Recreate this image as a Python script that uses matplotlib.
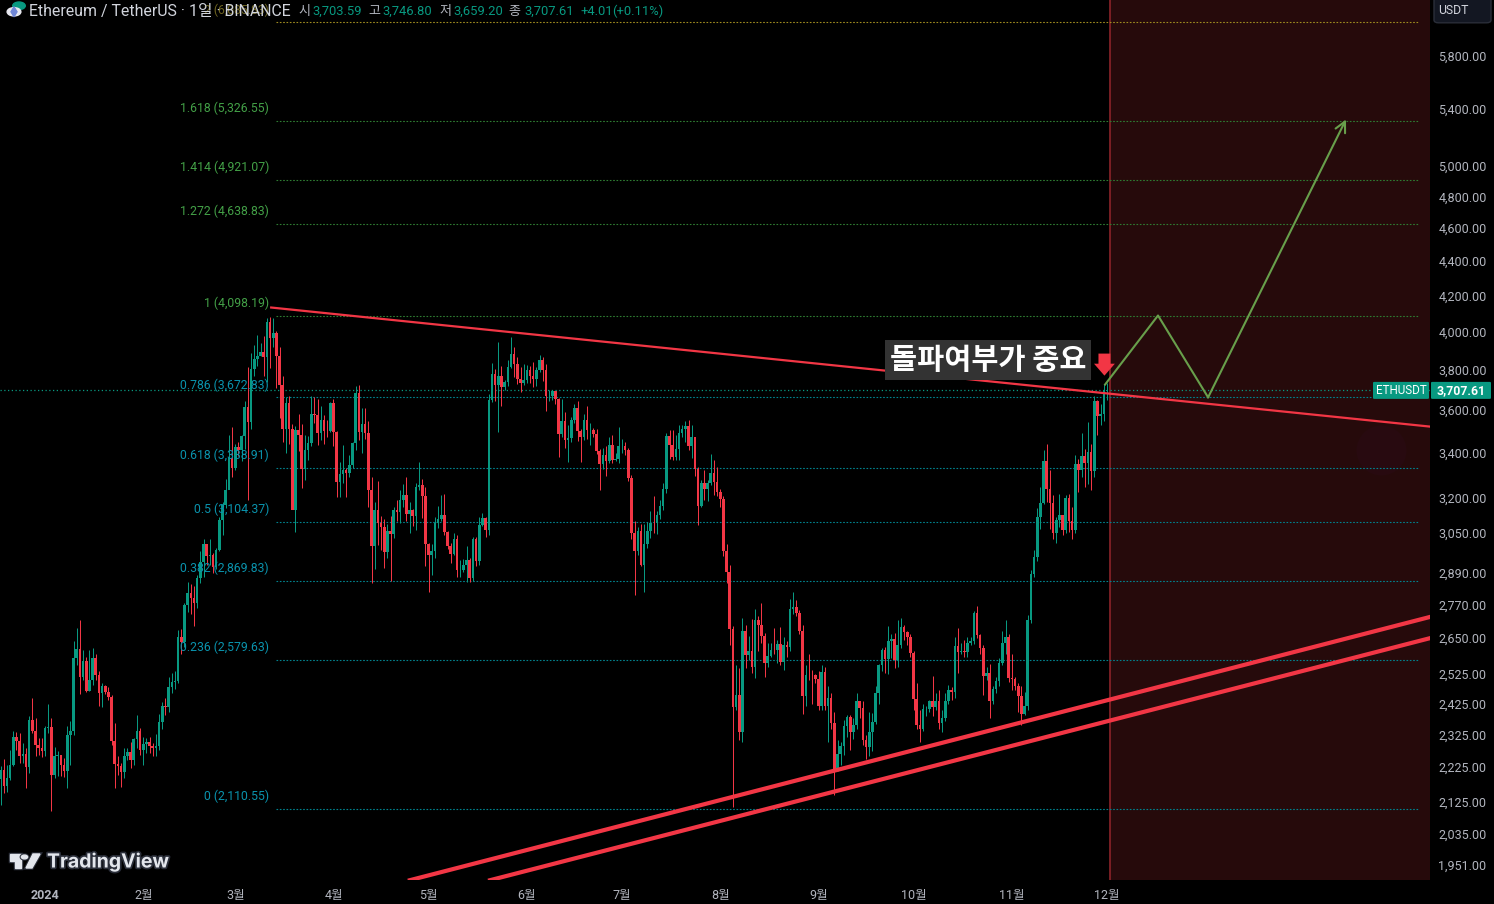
import matplotlib
matplotlib.use('Agg')
import matplotlib.pyplot as plt
import matplotlib.patheffects as pe
from matplotlib.patches import Circle, Polygon, FancyBboxPatch
from matplotlib.ticker import NullLocator, NullFormatter
from matplotlib.transforms import ScaledTranslation

plt.rcParams['font.family'] = ['Roboto', 'Noto Sans CJK KR', 'DejaVu Sans']

# daily candles, first one 14 days before 2024-01-01; one row per month
opens = [
    2197, 2224, 2176, 2200, 2240, 2326, 2312, 2265, 2272, 2232, 2378, 2344, 2299, 2292,
    2281, 2352, 2355, 2209, 2267, 2268, 2240, 2221, 2330, 2344, 2584, 2617, 2522, 2576, 2472, 2511, 2587, 2528, 2467, 2489, 2470, 2453, 2311, 2242, 2236, 2218, 2267, 2277, 2255, 2318, 2344,
    2283, 2304, 2309, 2297, 2289, 2296, 2372, 2423, 2419, 2486, 2502, 2507, 2660, 2641, 2777, 2823, 2803, 2786, 2881, 2944, 3013, 2968, 2971, 2923, 2992, 3112, 3178, 3243, 3385,
    3340, 3434, 3421, 3487, 3627, 3553, 3818, 3868, 3883, 3905, 3878, 4067, 3980, 4005, 3881, 3735, 3522, 3643, 3520, 3158, 3516, 3492, 3336, 3421, 3454, 3590, 3587, 3500, 3561, 3510, 3508,
    3647, 3504, 3278, 3311, 3331, 3318, 3353, 3454, 3694, 3505, 3545, 3500, 3240, 3006, 3156, 3100, 3084, 2984, 3066, 3054, 3157, 3147, 3200, 3219, 3140, 3156, 3131, 3254, 3263, 3216,
    3014, 2972, 2988, 3103, 3117, 3136, 3062, 3006, 2974, 3036, 2910, 2912, 2929, 2949, 2881, 3037, 2945, 3094, 3122, 3071, 3661, 3790, 3736, 3780, 3727, 3748, 3826, 3893, 3840, 3767, 3747,
    3760, 3813, 3780, 3767, 3810, 3864, 3809, 3678, 3680, 3705, 3664, 3497, 3559, 3468, 3479, 3564, 3622, 3508, 3483, 3563, 3516, 3517, 3494, 3417, 3356, 3399, 3372, 3447, 3376, 3381,
    3438, 3441, 3421, 3295, 3058, 2985, 3069, 2931, 3016, 3066, 3101, 3100, 3133, 3175, 3245, 3485, 3444, 3388, 3426, 3503, 3518, 3536, 3439, 3481, 3336, 3175, 3275, 3247, 3271, 3318, 3279,
    3232, 3203, 2987, 2903, 2689, 2419, 2461, 2339, 2682, 2597, 2610, 2555, 2721, 2703, 2662, 2569, 2593, 2614, 2612, 2636, 2571, 2631, 2623, 2763, 2768, 2746, 2680, 2458, 2528, 2527, 2526,
    2513, 2425, 2538, 2425, 2451, 2369, 2225, 2272, 2297, 2359, 2388, 2341, 2362, 2440, 2417, 2315, 2295, 2340, 2372, 2465, 2560, 2613, 2582, 2645, 2653, 2578, 2632, 2695, 2677, 2659,
    2603, 2447, 2364, 2349, 2414, 2414, 2440, 2422, 2440, 2370, 2385, 2439, 2476, 2470, 2628, 2607, 2611, 2605, 2640, 2646, 2748, 2666, 2620, 2525, 2535, 2440, 2480, 2507, 2569, 2638, 2659,
    2517, 2514, 2490, 2457, 2399, 2423, 2720, 2895, 2962, 3126, 3185, 3372, 3245, 3187, 3059, 3113, 3134, 3072, 3206, 3108, 3072, 3356, 3329, 3394, 3360, 3414, 3326, 3656, 3580, 3593,
    3703.59,
]
highs = [
    2235, 2258, 2240, 2285, 2343, 2340, 2337, 2305, 2290, 2393, 2450, 2386, 2322, 2322,
    2361, 2432, 2385, 2295, 2280, 2268, 2260, 2358, 2375, 2646, 2692, 2722, 2612, 2590, 2614, 2620, 2600, 2540, 2500, 2492, 2485, 2460, 2370, 2265, 2245, 2290, 2290, 2310, 2322, 2395, 2352,
    2325, 2323, 2325, 2305, 2335, 2398, 2436, 2450, 2520, 2535, 2540, 2685, 2690, 2785, 2866, 2858, 2848, 2890, 2985, 3035, 3015, 3034, 2980, 3000, 3125, 3190, 3290, 3490, 3530,
    3450, 3460, 3490, 3655, 3825, 3900, 3940, 3995, 3950, 3990, 4085, 4095, 4085, 4015, 3930, 3780, 3675, 3680, 3545, 3535, 3590, 3545, 3490, 3485, 3680, 3675, 3665, 3630, 3585, 3565, 3650,
    3665, 3510, 3365, 3445, 3340, 3400, 3460, 3730, 3735, 3620, 3620, 3560, 3300, 3190, 3283, 3130, 3120, 3095, 3130, 3170, 3200, 3240, 3270, 3300, 3190, 3160, 3275, 3365, 3290, 3255,
    3020, 3015, 3125, 3174, 3220, 3225, 3070, 3020, 3060, 3050, 2950, 2955, 3005, 2960, 3045, 3045, 3125, 3145, 3125, 3690, 3845, 3815, 3958, 3830, 3760, 3860, 3985, 3930, 3880, 3825, 3840,
    3835, 3830, 3850, 3825, 3888, 3880, 3840, 3710, 3710, 3700, 3670, 3665, 3600, 3540, 3575, 3640, 3655, 3520, 3590, 3630, 3550, 3525, 3520, 3425, 3430, 3440, 3480, 3490, 3410, 3530,
    3475, 3460, 3430, 3310, 3110, 3085, 3095, 3095, 3105, 3150, 3218, 3150, 3200, 3275, 3500, 3515, 3515, 3490, 3540, 3540, 3560, 3565, 3540, 3480, 3345, 3285, 3330, 3285, 3404, 3375, 3345,
    3245, 3215, 3015, 2930, 2700, 2562, 2550, 2730, 2705, 2665, 2726, 2762, 2735, 2785, 2675, 2640, 2640, 2693, 2650, 2697, 2660, 2645, 2800, 2827, 2795, 2760, 2705, 2560, 2600, 2545, 2530,
    2540, 2560, 2555, 2490, 2465, 2405, 2315, 2310, 2380, 2395, 2395, 2385, 2465, 2425, 2440, 2330, 2405, 2400, 2490, 2565, 2620, 2625, 2700, 2670, 2675, 2720, 2730, 2705, 2680, 2670,
    2610, 2500, 2410, 2430, 2425, 2445, 2525, 2465, 2475, 2410, 2465, 2495, 2485, 2660, 2693, 2640, 2650, 2660, 2660, 2755, 2773, 2670, 2630, 2555, 2565, 2490, 2520, 2585, 2680, 2723, 2670,
    2600, 2520, 2500, 2490, 2470, 2740, 2910, 2990, 3165, 3255, 3420, 3450, 3330, 3220, 3125, 3225, 3130, 3220, 3225, 3170, 3398, 3380, 3500, 3425, 3553, 3450, 3680, 3660, 3640, 3740,
    3746.80,
]
lows = [
    2120, 2157, 2160, 2195, 2235, 2285, 2245, 2245, 2170, 2215, 2336, 2266, 2270, 2263,
    2265, 2336, 2105, 2200, 2205, 2205, 2202, 2170, 2238, 2332, 2560, 2463, 2510, 2470, 2472, 2495, 2510, 2425, 2420, 2462, 2445, 2300, 2170, 2210, 2172, 2200, 2255, 2230, 2240, 2290, 2270,
    2240, 2275, 2275, 2265, 2265, 2285, 2350, 2395, 2405, 2465, 2480, 2500, 2600, 2625, 2750, 2745, 2700, 2765, 2860, 2885, 2930, 2930, 2900, 2915, 2985, 3050, 3165, 3250, 3300,
    3330, 3395, 3370, 3425, 3200, 3520, 3780, 3830, 3885, 3780, 3750, 3820, 3930, 3720, 3570, 3460, 3410, 3450, 3160, 3065, 3415, 3250, 3285, 3375, 3440, 3550, 3445, 3470, 3450, 3480, 3505,
    3440, 3210, 3213, 3275, 3210, 3300, 3340, 3420, 3470, 3410, 3475, 3170, 2860, 2916, 3010, 2990, 2920, 2960, 2868, 3040, 3110, 3100, 3170, 3110, 3060, 3090, 3074, 3240, 3122, 2928,
    2825, 2890, 2960, 3080, 3110, 3050, 2995, 2940, 2970, 2885, 2885, 2905, 2864, 2864, 2870, 2925, 2930, 3090, 3045, 3050, 3650, 3655, 3505, 3630, 3710, 3730, 3820, 3775, 3740, 3700, 3735,
    3745, 3745, 3725, 3730, 3800, 3755, 3606, 3655, 3660, 3640, 3390, 3480, 3430, 3365, 3460, 3550, 3465, 3366, 3470, 3475, 3445, 3480, 3405, 3240, 3335, 3305, 3360, 3360, 3370, 3360,
    3410, 3400, 3280, 3035, 2815, 2970, 2925, 2825, 3000, 3040, 3060, 3055, 3120, 3155, 3230, 3380, 3375, 3375, 3375, 3480, 3460, 3420, 3385, 3305, 3094, 3170, 3200, 3195, 3265, 3220, 3215,
    3170, 2965, 2860, 2630, 2117, 2410, 2314, 2310, 2550, 2580, 2535, 2518, 2610, 2640, 2522, 2555, 2590, 2600, 2570, 2560, 2545, 2590, 2610, 2745, 2735, 2670, 2398, 2425, 2510, 2430, 2500,
    2410, 2410, 2410, 2310, 2350, 2150, 2220, 2240, 2270, 2325, 2283, 2320, 2350, 2385, 2300, 2257, 2265, 2280, 2365, 2430, 2540, 2535, 2530, 2585, 2550, 2555, 2620, 2650, 2630, 2590,
    2410, 2350, 2310, 2345, 2390, 2405, 2390, 2410, 2350, 2340, 2375, 2430, 2445, 2450, 2535, 2600, 2590, 2590, 2630, 2635, 2655, 2600, 2460, 2510, 2385, 2430, 2465, 2490, 2560, 2600, 2505,
    2475, 2475, 2405, 2364, 2395, 2410, 2710, 2885, 2945, 3077, 3180, 3190, 3077, 3036, 3020, 3085, 3050, 3060, 3065, 3035, 3060, 3235, 3300, 3255, 3270, 3240, 3300, 3490, 3540, 3560,
    3659.20,
]
closes = [
    2224, 2176, 2200, 2240, 2326, 2312, 2265, 2272, 2232, 2378, 2344, 2299, 2292, 2281,
    2352, 2355, 2209, 2267, 2268, 2240, 2221, 2330, 2344, 2584, 2617, 2522, 2576, 2472, 2511, 2587, 2528, 2467, 2489, 2470, 2453, 2311, 2242, 2236, 2218, 2267, 2277, 2255, 2318, 2344, 2283,
    2304, 2309, 2297, 2289, 2296, 2372, 2423, 2419, 2486, 2502, 2507, 2660, 2641, 2777, 2823, 2803, 2786, 2881, 2944, 3013, 2968, 2971, 2923, 2992, 3112, 3178, 3243, 3385, 3340,
    3434, 3421, 3487, 3627, 3553, 3818, 3868, 3883, 3905, 3878, 4067, 3980, 4005, 3881, 3735, 3522, 3643, 3520, 3158, 3516, 3492, 3336, 3421, 3454, 3590, 3587, 3500, 3561, 3510, 3508, 3647,
    3504, 3278, 3311, 3331, 3318, 3353, 3454, 3694, 3505, 3545, 3500, 3240, 3006, 3156, 3100, 3084, 2984, 3066, 3054, 3157, 3147, 3200, 3219, 3140, 3156, 3131, 3254, 3263, 3216, 3014,
    2972, 2988, 3103, 3117, 3136, 3062, 3006, 2974, 3036, 2910, 2912, 2929, 2949, 2881, 3037, 2945, 3094, 3122, 3071, 3661, 3790, 3736, 3780, 3727, 3748, 3826, 3893, 3840, 3767, 3747, 3760,
    3813, 3780, 3767, 3810, 3864, 3809, 3678, 3680, 3705, 3664, 3497, 3559, 3468, 3479, 3564, 3622, 3508, 3483, 3563, 3516, 3517, 3494, 3417, 3356, 3399, 3372, 3447, 3376, 3381, 3438,
    3441, 3421, 3295, 3058, 2985, 3069, 2931, 3016, 3066, 3101, 3100, 3133, 3175, 3245, 3485, 3444, 3388, 3426, 3503, 3518, 3536, 3439, 3481, 3336, 3175, 3275, 3247, 3271, 3318, 3279, 3232,
    3203, 2987, 2903, 2689, 2419, 2461, 2339, 2682, 2597, 2610, 2555, 2721, 2703, 2662, 2569, 2593, 2614, 2612, 2636, 2571, 2631, 2623, 2763, 2768, 2746, 2680, 2458, 2528, 2527, 2526, 2513,
    2425, 2538, 2425, 2451, 2369, 2225, 2272, 2297, 2359, 2388, 2341, 2362, 2440, 2417, 2315, 2295, 2340, 2372, 2465, 2560, 2613, 2582, 2645, 2653, 2578, 2632, 2695, 2677, 2659, 2603,
    2447, 2364, 2349, 2414, 2414, 2440, 2422, 2440, 2370, 2385, 2439, 2476, 2470, 2628, 2607, 2611, 2605, 2640, 2646, 2748, 2666, 2620, 2525, 2535, 2440, 2480, 2507, 2569, 2638, 2659, 2517,
    2514, 2490, 2457, 2399, 2423, 2720, 2895, 2962, 3126, 3185, 3372, 3245, 3187, 3059, 3113, 3134, 3072, 3206, 3108, 3072, 3356, 3329, 3394, 3360, 3414, 3326, 3656, 3580, 3593, 3703,
    3707.61,
]

fib_prices = [2110.55, 2579.63, 2869.83, 3104.37, 3338.91, 3672.83, 4098.19, 4638.83, 4921.07, 5326.55, 6085.83]
fib_names = ['0', '0.236', '0.382', '0.5', '0.618', '0.786', '1', '1.272', '1.414', '1.618', '2']

y_ticks = [5800, 5400, 5000, 4800, 4600, 4400, 4200, 4000, 3800, 3600, 3400, 3200, 3050,
           2890, 2770, 2650, 2525, 2425, 2325, 2225, 2125, 2035, 1951]
month_days = [0, 31, 60, 91, 121, 152, 182, 213, 244, 274, 305, 335]
month_labels = ['2024', '2월', '3월', '4월', '5월', '6월', '7월', '8월', '9월', '10월', '11월', '12월']

# drawings on the chart: day number, price
top_line_days = [71, 437]
top_line_prices = [4146, 3531]
upper_support_days = [115.1, 437]
upper_support_prices = [1917, 2733]
lower_support_days = [140.4, 437]
lower_support_prices = [1917, 2656]
path_days = [334.4, 351.1, 366.9, 410.4]
path_prices = [3737, 4101, 3673, 5340]

BG = '#000000'
GREEN = '#089981'
RED = '#f23645'
GREY = '#b2b5be'
FIB_TEAL = '#00838f'
FIB_GREEN = '#2e7d32'
LABEL_TEAL = '#0a93ad'
LABEL_GREEN = '#43a047'
PATH_GREEN = '#689f4b'
W, H = 1494, 904


def fx(px):
    return px / W


def fy(py):
    return 1 - py / H


fig = plt.figure(figsize=(W / 100, (H + 0.2) / 100), dpi=100, facecolor=BG)
ax = fig.add_axes([0, fy(880), fx(1430), 880 / H], facecolor=BG)
ax.set_yscale('log')
ax.set_xlim(-14.2, 436.9)
ax.set_ylim(1917.5, 6274)

days = list(range(-14, -14 + len(closes)))
colors = [GREEN if c >= o else RED for o, c in zip(opens, closes)]

# shaded zone after the last candle
ax.axvspan(335.95, 436.9, color='#260a0b', lw=0, zorder=0)
ax.axvline(335.95, color='#8c2329', lw=1.2, zorder=1)
ax.scatter([421.5], [3420], s=1300, color='#280a10', lw=0, zorder=0.5)

# fib levels
for name, price in zip(fib_names, fib_prices):
    if name == '2':
        line_c, text_c = '#a08c20', '#6e6420'
    elif price > 4000:
        line_c, text_c = FIB_GREEN, LABEL_GREEN
    else:
        line_c, text_c = FIB_TEAL, LABEL_TEAL
    ax.plot([72.87, 433.1], [price, price], color=line_c, lw=0.8, ls=(0, (1.5, 1.5)), zorder=2)
    ax.annotate(f'{name} ({price:,.2f})', (70.66, price), xytext=(0, 9.2), textcoords='offset points',
                ha='right', va='center', color=text_c, fontsize=8.8, zorder=6)

ax.plot([-14.2, 436.9], [closes[-1], closes[-1]], color=GREEN, lw=0.9, ls=(0, (1, 2)), zorder=2)

# candles
ax.vlines(days, lows, highs, colors=colors, lw=0.72, snap=True, zorder=3)
ax.bar(days, [abs(c - o) for o, c in zip(opens, closes)], bottom=[min(o, c) for o, c in zip(opens, closes)],
       width=0.82, color=colors, linewidth=0, antialiased=False, zorder=4)

# trend lines
ax.plot(top_line_days, top_line_prices, color=RED, lw=1.6, zorder=5, solid_capstyle='butt')
ax.plot(upper_support_days, upper_support_prices, color=RED, lw=3, zorder=5)
ax.plot(lower_support_days, lower_support_prices, color=RED, lw=3, zorder=5)

# projected path
ax.plot(path_days[:3], path_prices[:3], color=PATH_GREEN, lw=1.5, zorder=5)
ax.annotate('', xy=(path_days[3], path_prices[3]), xytext=(path_days[2], path_prices[2]),
            arrowprops=dict(arrowstyle='->,head_length=0.75,head_width=0.38', color=PATH_GREEN,
                            lw=1.5, shrinkA=0, shrinkB=0), zorder=5)

ax.text(297.6, 3862, '돌파여부가 중요', color='white', fontsize=21.2, fontweight='bold', ha='center', va='center',
        family=['Noto Sans CJK KR', 'DejaVu Sans'], zorder=7,
        bbox=dict(facecolor='#333333', edgecolor='none', pad=3.4))
ax.annotate('', xy=(334.2, 3782), xytext=(334.2, 3896), zorder=8,
            arrowprops=dict(width=8.6, headwidth=15, headlength=8.6, color=RED, shrink=0, lw=0))

# axes
for spine in ax.spines.values():
    spine.set_visible(False)
ax.yaxis.tick_right()
ax.yaxis.set_minor_locator(NullLocator())
ax.yaxis.set_minor_formatter(NullFormatter())
ax.set_yticks(y_ticks)
ax.set_yticklabels([f'{t:,.2f}' for t in y_ticks])
ax.tick_params(axis='y', length=0, pad=6, colors=GREY, labelsize=9)
shift = ScaledTranslation(0, 2.5 / 100, fig.dpi_scale_trans)
for lbl in ax.get_yticklabels():
    lbl.set_transform(lbl.get_transform() + shift)
ax.set_xticks(month_days)
ax.set_xticklabels(month_labels)
ax.tick_params(axis='x', length=0, pad=6, colors=GREY, labelsize=9)
ax.get_xticklabels()[0].set_fontweight('bold')

# header
fig.text(fx(29), fy(11), 'Ethereum / TetherUS · 1일 · BINANCE', color='#d1d4dc', fontsize=11.4, va='center')
header = [(298, '시', GREY), (312, '3,703.59', GREEN), (368, '고', GREY), (382, '3,746.80', GREEN),
          (439, '저', GREY), (453, '3,659.20', GREEN), (508, '종', GREY), (524, '3,707.61', GREEN),
          (580, '+4.01', GREEN), (612, '(+0.11%)', GREEN)]
for px, txt, col in header:
    fig.text(fx(px), fy(11), txt, color=col, fontsize=9.4, va='center')

# symbol logo in the header
fig.add_artist(Circle((fx(19), fy(6)), 0.0042, transform=fig.transFigure, color='#089981'))
fig.add_artist(Circle((fx(14), fy(12)), 0.0046, transform=fig.transFigure, color='#e8e8f0'))
fig.add_artist(Polygon([[fx(14), fy(7)], [fx(17), fy(12)], [fx(14), fy(17)], [fx(11), fy(12)]],
                       transform=fig.transFigure, color='#6f86d6'))

# price tags
fig.add_artist(FancyBboxPatch((fx(1373), fy(399)), fx(56), 17 / H, boxstyle='round,pad=0,rounding_size=0.001',
                              transform=fig.transFigure, color=GREEN, lw=0))
fig.text(fx(1401), fy(390.5), 'ETHUSDT', color='white', fontsize=8.4, ha='center', va='center')
fig.add_artist(FancyBboxPatch((fx(1431), fy(399)), fx(60), 17 / H, boxstyle='round,pad=0,rounding_size=0.001',
                              transform=fig.transFigure, color=GREEN, lw=0))
fig.text(fx(1461), fy(390.5), f'{closes[-1]:,.2f}', color='white', fontsize=8.8, fontweight='bold', ha='center', va='center')

# currency button
fig.add_artist(FancyBboxPatch((fx(1434), fy(23)), fx(57), 30 / H, boxstyle='round,pad=0,rounding_size=0.003',
                              transform=fig.transFigure, facecolor='#131722', edgecolor='#2a2e39', lw=1))
fig.text(fx(1438), fy(10.5), 'USDT', color='#d1d4dc', fontsize=8.8, va='center')

# TradingView mark
logo_c = '#e3e6ec'
stroke = [pe.withStroke(linewidth=2.5, foreground='#2a2e39')]
for patch in [Polygon([[fx(10), fy(854)], [fx(21), fy(854)], [fx(21), fy(868)], [fx(15), fy(868)],
                       [fx(15), fy(861)], [fx(10), fy(861)]], transform=fig.transFigure, color=logo_c),
              Circle((fx(24.5), fy(857)), 0.0021, transform=fig.transFigure, color=logo_c),
              Polygon([[fx(33), fy(854)], [fx(40), fy(854)], [fx(32), fy(868)], [fx(26), fy(868)]],
                      transform=fig.transFigure, color=logo_c)]:
    patch.set_path_effects(stroke)
    fig.add_artist(patch)
fig.text(fx(47), fy(862), 'TradingView', color=logo_c, fontsize=14, fontweight='bold', va='center',
         family=['Inter', 'DejaVu Sans'], path_effects=stroke)

fig.savefig('out.png', dpi=100, facecolor=BG)
